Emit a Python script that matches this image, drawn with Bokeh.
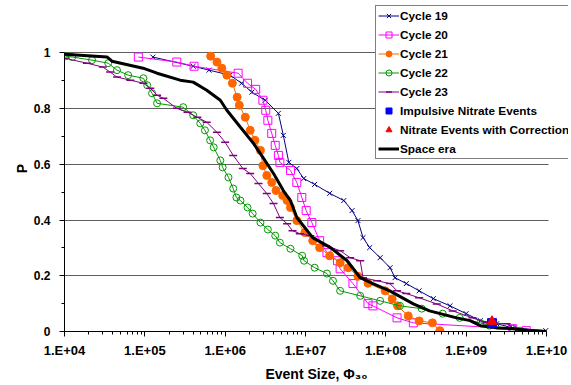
import math
from bokeh.plotting import figure
from bokeh.models import (Range1d, FixedTicker, CustomJSTickFormatter, Legend, LegendItem)
from bokeh.embed import file_html
from bokeh.resources import INLINE

# ---------------- data (Event size Phi30, probability P) ----------------
c19_x = [1.26e5, 4.0e5, 6.3e5, 1.15e6, 1.6e6, 2.15e6, 3.15e6, 4.6e6, 5.3e6, 6.2e6, 7.8e6,
         9.5e6, 1.3e7, 2.0e7, 3.0e7, 3.8e7, 4.5e7, 5.2e7, 6.3e7, 8.5e7, 1.13e8, 1.3e8,
         1.8e8, 2.6e8, 3.9e8, 6.3e8, 1.0e9, 1.5e9, 2.4e9, 3.8e9, 9.8e9]
c19_p = [0.985, 0.952, 0.938, 0.920, 0.891, 0.859, 0.830, 0.783, 0.704, 0.607, 0.585,
         0.549, 0.528, 0.496, 0.470, 0.434, 0.398, 0.337, 0.301, 0.265, 0.229, 0.193,
         0.172, 0.146, 0.118, 0.092, 0.064, 0.039, 0.028, 0.013, 0.003]

c20_x = [8.3e4, 2.5e5, 4.1e5, 1.45e6, 1.9e6, 2.4e6, 2.95e6, 3.2e6, 3.4e6, 3.8e6, 4.2e6,
         4.6e6, 4.8e6, 6.5e6, 7.8e6, 9.0e6, 1.02e7, 1.2e7, 1.5e7, 1.85e7, 2.5e7, 2.7e7,
         3.9e7, 6.0e7, 6.9e7, 1.38e8, 2.2e8, 3.8e9, 5.6e9]
c20_p = [0.985, 0.967, 0.952, 0.927, 0.891, 0.869, 0.830, 0.794, 0.758, 0.711, 0.668,
         0.632, 0.607, 0.578, 0.535, 0.481, 0.434, 0.391, 0.326, 0.283, 0.254, 0.225,
         0.172, 0.100, 0.092, 0.049, 0.031, 0.010, 0.003]

c21_x = [6.6e5, 7.9e5, 9.1e5, 1.05e6, 1.23e6, 1.41e6, 1.5e6, 1.78e6, 2.05e6, 2.35e6,
         2.75e6, 2.95e6, 3.3e6, 3.8e6, 4.3e6, 5.2e6, 5.9e6, 6.5e6, 7.8e6, 9.8e6, 1.23e7,
         1.5e7, 2.0e7, 2.7e7, 3.4e7, 4.5e7, 6.0e7, 9.8e7, 1.2e8, 1.4e8, 1.9e8, 2.6e8,
         3.8e8, 4.7e8]
c21_p = [0.988, 0.967, 0.945, 0.920, 0.891, 0.841, 0.812, 0.769, 0.722, 0.686,
         0.650, 0.595, 0.560, 0.535, 0.506, 0.488, 0.470, 0.445, 0.398, 0.355, 0.326,
         0.301, 0.272, 0.247, 0.229, 0.198, 0.173, 0.146, 0.117, 0.092, 0.056, 0.038,
         0.031, 0.003]

c22_x = [1.03e4, 1.25e4, 2.2e4, 3.5e4, 4.5e4, 6.2e4, 9.6e4, 1.07e5, 1.23e5, 1.42e5,
         3.0e5, 4.0e5, 4.9e5, 5.6e5, 6.5e5, 7.2e5, 8.7e5, 9.3e5, 1.1e6, 1.26e6, 1.38e6,
         1.55e6, 1.9e6, 2.2e6, 2.75e6, 3.4e6, 4.2e6, 4.8e6, 6.5e6, 9.1e6, 9.6e6, 1.3e7,
         1.85e7, 2.2e7, 2.7e7, 4.8e7, 8.5e7, 1.5e8, 2.8e8, 5.1e8, 8.3e8, 1.5e9, 1.95e9,
         3.8e9, 4.7e9]
c22_p = [0.988, 0.985, 0.974, 0.963, 0.938, 0.920, 0.909, 0.884, 0.855, 0.819,
         0.805, 0.776, 0.747, 0.722, 0.686, 0.661, 0.614, 0.589, 0.553, 0.513, 0.481,
         0.470, 0.445, 0.423, 0.391, 0.366, 0.344, 0.319, 0.297, 0.272, 0.254, 0.229,
         0.208, 0.182, 0.146, 0.128, 0.110, 0.092, 0.082, 0.064, 0.049, 0.031, 0.021,
         0.010, 0.003]

c23_x = [1.0e4, 1.9e4, 3.0e4, 3.7e4, 4.5e4, 6.6e4, 9.6e4, 1.17e5, 1.42e5, 1.7e5, 2.5e5,
         3.4e5, 4.5e5, 5.9e5, 7.9e5, 1.0e6, 1.26e6, 1.66e6, 2.05e6, 2.6e6, 3.3e6, 4.0e6,
         4.8e6, 5.9e6, 6.9e6, 8.5e6, 1.15e7, 1.8e7, 2.7e7, 3.6e7, 4.8e7, 5.2e7, 7.8e7,
         1.12e8, 1.38e8, 1.8e8, 2.6e8, 4.3e8, 6.8e8, 1.2e9, 1.8e9, 3.2e9, 3.9e9]
c23_p = [0.981, 0.963, 0.949, 0.931, 0.913, 0.902, 0.891, 0.873, 0.848, 0.837, 0.801,
         0.787, 0.769, 0.751, 0.715, 0.679, 0.632, 0.585, 0.567, 0.531, 0.495, 0.459,
         0.409, 0.387, 0.362, 0.351, 0.344, 0.308, 0.290, 0.265, 0.254, 0.193, 0.182,
         0.172, 0.146, 0.136, 0.121, 0.099, 0.074, 0.049, 0.031, 0.028, 0.012]

space_x = [1.0e4, 3.4e4, 3.9e4, 9.5e4, 1.42e5, 2.75e5, 4.0e5, 5.9e5, 8.7e5, 1.05e6,
           1.55e6, 2.25e6, 2.95e6, 4.0e6, 5.3e6, 6.5e6, 7.8e6, 1.23e7, 2.05e7, 3.3e7,
           4.8e7, 6.9e7, 1.12e8, 2.2e8, 3.5e8, 7.6e8, 1.12e9, 1.5e9, 2.4e9, 3.8e9, 6.8e9,
           1.0e10]
space_p = [0.995, 0.985, 0.970, 0.945, 0.927, 0.902, 0.895, 0.866, 0.830, 0.794,
           0.733, 0.675, 0.625, 0.567, 0.506, 0.470, 0.409, 0.337, 0.301, 0.254,
           0.193, 0.172, 0.146, 0.099, 0.074, 0.049, 0.039, 0.021, 0.013, 0.010, 0.003,
           0.0]

impulsive_x = [2.1e9]
impulsive_p = [0.030]
corrected_x = [2.1e9]
corrected_p = [0.036]

x_ticks = [1e4, 1e5, 1e6, 1e7, 1e8, 1e9, 1e10]
x_minor = [m * 10 ** e for e in range(4, 10) for m in range(2, 10)]
y_ticks = [0, 0.2, 0.4, 0.6, 0.8, 1.0]
y_minor = [0.1, 0.3, 0.5, 0.7, 0.9]

FONT = "Liberation Sans"

# frame is extended to the right and above the data area so that the legend
# (which overlaps the top-right corner) is not clipped; axes are bounded.
p = figure(x_axis_type="log", output_backend="svg", toolbar_location=None,
           frame_width=504, frame_height=326,
           min_border_left=64, min_border_right=0, min_border_top=5, min_border_bottom=54,
           x_range=Range1d(1e4, 1.88e10), y_range=Range1d(0, 1.17))
p.outline_line_color = None
p.background_fill_color = "white"
p.border_fill_color = "white"

# axes
p.xaxis.ticker = FixedTicker(ticks=x_ticks, minor_ticks=x_minor)
p.xaxis.formatter = CustomJSTickFormatter(code="""
const e = Math.round(Math.log10(tick));
return "1.E+" + (e < 10 ? "0" + e : "" + e);
""")
p.yaxis.ticker = FixedTicker(ticks=y_ticks, minor_ticks=y_minor)
p.yaxis.formatter = CustomJSTickFormatter(code="""
return tick.toFixed(1).replace(/\\.0$/, "");
""")
p.xaxis.bounds = (x_ticks[0], x_ticks[-1])
p.yaxis.bounds = (y_ticks[0], y_ticks[-1])
for ax in (p.xaxis, p.yaxis):
    ax.axis_line_color = "black"
    ax.major_tick_line_color = "black"
    ax.minor_tick_line_color = "black"
    ax.major_tick_in = 0
    ax.major_tick_out = 5
    ax.minor_tick_in = 0
    ax.minor_tick_out = 3
    ax.major_label_text_font = FONT
    ax.major_label_text_font_style = "bold"
    ax.major_label_text_color = "black"
    ax.axis_label_text_font = FONT
    ax.axis_label_text_font_style = "bold"
    ax.axis_label_text_color = "black"
p.xaxis.major_label_text_font_size = "13px"
p.yaxis.major_label_text_font_size = "12px"
p.xaxis.major_label_standoff = 6
p.yaxis.major_label_standoff = 9
p.xaxis.axis_label = "Event Size, Φ₃₀"
p.yaxis.axis_label = "P"
p.xaxis.axis_label_text_font_size = "14px"
p.yaxis.axis_label_text_font_size = "14px"
p.xaxis.axis_label_standoff = 5
p.yaxis.axis_label_standoff = 1

p.xgrid.visible = False
p.ygrid.grid_line_color = "#606060"
p.ygrid.grid_line_width = 1
p.ygrid.bounds = (y_ticks[0], y_ticks[-1])
p.ygrid.cross_bounds = (x_ticks[0], 1.07e10)

# series
r19l = p.line(c19_x, c19_p, line_color="#000080", line_width=1)
r19m = p.scatter(c19_x, c19_p, marker="x", size=7, line_color="#000080", line_width=1)

r20l = p.line(c20_x, c20_p, line_color="#FF00FF", line_width=1)
r20m = p.scatter(c20_x, c20_p, marker="square", size=8, line_color="#FF00FF",
                 fill_color=None, line_width=1)

r21l = p.line(c21_x, c21_p, line_color="#FF6600", line_width=1)
r21m = p.scatter(c21_x, c21_p, marker="circle", size=8, line_color="#FF6600",
                 fill_color="#FF6600", line_width=1)

r22l = p.line(c22_x, c22_p, line_color="#009900", line_width=1)
r22m = p.scatter(c22_x, c22_p, marker="circle", size=7, line_color="#009900",
                 fill_color=None, line_width=1)

r23l = p.line(c23_x, c23_p, line_color="#800080", line_width=1)
r23m = p.scatter(c23_x, c23_p, marker="dash", size=8, line_color="#800080",
                 line_width=1.5)

rsp = p.line(space_x, space_p, line_color="black", line_width=3)

rimp = p.scatter(impulsive_x, impulsive_p, marker="square", size=9, fill_color="#0000FF",
                 line_color="#0000FF")
rcor = p.scatter(corrected_x, corrected_p, marker="triangle", size=10, fill_color="#FF0000",
                 line_color="#FF0000")

legend = Legend(items=[
    LegendItem(label="Cycle 19", renderers=[r19l, r19m]),
    LegendItem(label="Cycle 20", renderers=[r20l, r20m]),
    LegendItem(label="Cycle 21", renderers=[r21l, r21m]),
    LegendItem(label="Cycle 22", renderers=[r22l, r22m]),
    LegendItem(label="Cycle 23", renderers=[r23l, r23m]),
    LegendItem(label="Impulsive Nitrate Events", renderers=[rimp]),
    LegendItem(label="Nitrate Events with Correction", renderers=[rcor]),
    LegendItem(label="Space era", renderers=[rsp]),
], location=(311, 172))
legend.label_text_font = FONT
legend.label_text_font_style = "bold"
legend.label_text_font_size = "11.8px"
legend.label_text_color = "black"
legend.label_height = 15
legend.glyph_height = 15
legend.glyph_width = 21
legend.label_standoff = 1
legend.spacing = 4
legend.padding = 2
legend.margin = 0
legend.border_line_color = "black"
legend.border_line_width = 1
legend.background_fill_color = "white"
legend.background_fill_alpha = 1.0
p.add_layout(legend, "center")

open("out.html", "w").write(file_html(p, INLINE))
